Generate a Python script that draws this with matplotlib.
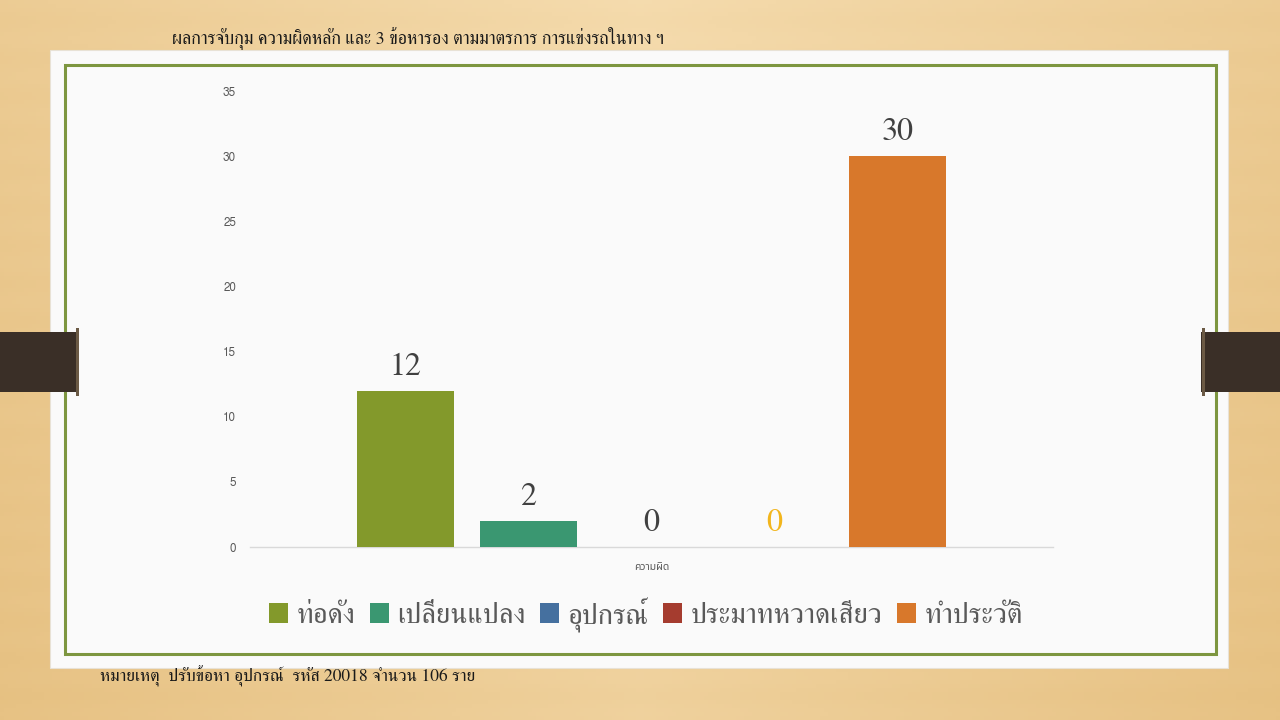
import matplotlib
matplotlib.use("Agg")
import matplotlib.pyplot as plt
import numpy as np
from matplotlib.patches import Rectangle

# ---- data ----
title = "ผลการจับกุม ความผิดหลัก และ 3 ข้อหารอง ตามมาตรการ การแข่งรถในทาง ฯ"
note = "หมายเหตุ  ปรับข้อหา อุปกรณ์  รหัส 20018 จำนวน 106 ราย"
category = "ความผิด"
series_names = ["ท่อดัง", "เปลี่ยนแปลง", "อุปกรณ์", "ประมาทหวาดเสียว", "ทำประวัติ"]
series_values = [12, 2, 0, 0, 30]
series_colors = ["#83992b", "#3a9771", "#45709f", "#a53c2f", "#d8782b"]
label_colors = ["#404040", "#404040", "#404040", "#f2b51c", "#404040"]
y_ticks = [0, 5, 10, 15, 20, 25, 30, 35]

SERIF = ["FreeSerif", "Noto Serif Thai", "DejaVu Serif"]
SANS = ["FreeSans", "Noto Sans Thai", "DejaVu Sans"]

W, H = 1280, 720
fig = plt.figure(figsize=(W / 100, H / 100), dpi=100)

# ---- wood background ----
bg = fig.add_axes([0, 0, 1, 1])
bg.set_xlim(0, W)
bg.set_ylim(H, 0)
bg.axis("off")
xx, yy = np.meshgrid(np.linspace(-1, 1, 320), np.linspace(0, 1, 180))
light = np.array([0.96, 0.86, 0.68])
dark = np.array([0.90, 0.75, 0.50])
t = np.clip(0.55 * np.abs(xx) + 0.35 * yy + 0.05 * np.sin(yy * 60) ** 2, 0, 1)
img = light[None, None, :] * (1 - t[..., None]) + dark[None, None, :] * t[..., None]
bg.imshow(img, extent=[0, W, H, 0], aspect="auto", zorder=0)

# card shadow
for i, a in enumerate([0.05, 0.05, 0.06, 0.07, 0.08]):
    bg.add_patch(Rectangle((60 + i * 2, 660 - 8 + i * 2), 1168 - i * 4, 14 - i * 2,
                           facecolor="#3a2a10", alpha=a, edgecolor="none", zorder=1))
# white card
bg.add_patch(Rectangle((50, 50), 1178, 618, facecolor="#fafafa", edgecolor="#e8e2d6",
                       linewidth=0.8, zorder=2))
# green border
bg.add_patch(Rectangle((65, 65), 1151, 589, facecolor="none", edgecolor="#7d9640",
                       linewidth=2.2, zorder=3))
# dark tabs
bg.add_patch(Rectangle((0, 332), 78, 60, facecolor="#3a2f27", edgecolor="none", zorder=4))
bg.add_patch(Rectangle((1201, 332), 79, 60, facecolor="#3a2f27", edgecolor="none", zorder=4))
for x in (76, 1202):
    bg.add_patch(Rectangle((x, 328), 3, 68, facecolor="#6b5a45", edgecolor="none", zorder=4))

# texts outside the plot
fig.text(172 / W, 1 - 38 / H, title, family=SERIF, fontsize=13, color="#1a1a1a",
         ha="left", va="center")
fig.text(100 / W, 1 - 676 / H, note, family=SERIF, fontsize=12.6, color="#1a1a1a",
         ha="left", va="center")

# ---- chart ----
ax = fig.add_axes([250 / W, 1 - 547 / H, (1053 - 250) / W, (547 - 91) / H])
ax.patch.set_alpha(0)
n = len(series_values)
offsets = np.arange(n) - (n - 1) / 2
bw = 97 / 123
for off, v, c, lc in zip(offsets, series_values, series_colors, label_colors):
    ax.bar(off, v, width=bw, color=c, zorder=3)
    ax.annotate(str(v), (off, v), xytext=(0, 6.5), textcoords="offset points",
                ha="center", va="bottom", family=SERIF, fontsize=23, color=lc)
ax.set_xlim(-401.5 / 123, 401.5 / 123)
ax.set_ylim(0, 35)
ax.set_yticks(y_ticks)
ax.set_yticklabels([str(v) for v in y_ticks], family=SANS, fontsize=8.5, color="#595959")
ax.tick_params(axis="y", length=0, pad=10)
ax.set_xticks([])
for s in ["top", "right", "left"]:
    ax.spines[s].set_visible(False)
ax.spines["bottom"].set_color("#d9d9d9")
ax.spines["bottom"].set_linewidth(1)
ax.set_xlabel(category, family=SANS, fontsize=7.5, color="#595959", labelpad=11)

handles = [Rectangle((0, 0), 1, 1, facecolor=c, edgecolor="none") for c in series_colors]
leg = fig.legend(handles, series_names, loc="center", bbox_to_anchor=(646 / W, 1 - 614 / H),
                 ncol=n, frameon=False, prop={"family": SERIF, "size": 20.7},
                 handlelength=0.66, handleheight=0.66, handletextpad=0.31,
                 columnspacing=0.49, labelcolor="#595959")

fig.savefig("out.png", dpi=100)
